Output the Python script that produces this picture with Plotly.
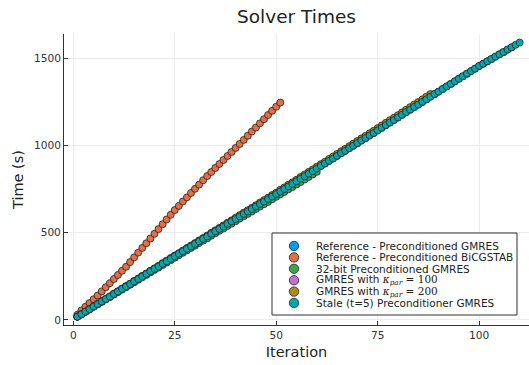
import plotly.graph_objects as go

# ---------------- data ----------------
series_names = [
    "Reference - Preconditioned GMRES",
    "Reference - Preconditioned BiCGSTAB",
    "32-bit Preconditioned GMRES",
    "GMRES with <span style='font-family:DejaVu Serif'><i>κ</i><sub><i>par</i></sub> = 100</span>",
    "GMRES with <span style='font-family:DejaVu Serif'><i>κ</i><sub><i>par</i></sub> = 200</span>",
    "Stale (t=5) Preconditioner GMRES",
]
series_colors = ["#009AFA", "#E36F47", "#3EA44E", "#C371D2", "#AC8E18", "#00A9AD"]

ref_gmres = [19, 32, 47, 61, 76, 90, 105, 119, 133, 148, 162, 177, 191, 205, 220, 234, 249, 263, 278, 292,
             306, 321, 335, 350, 364, 378, 393, 407, 421, 435, 450, 464, 478, 493, 507, 521, 535, 550, 564, 578,
             593, 607, 621, 635, 650, 664, 678, 692, 707, 721, 736, 750, 765, 779, 794, 809, 823, 838, 852, 867,
             882, 896, 911, 925, 940, 955, 969, 984, 998, 1013, 1028, 1042, 1057, 1071, 1086, 1101, 1116, 1131, 1145, 1160,
             1175, 1190, 1205, 1220, 1234, 1249, 1264, 1279, 1294, 1308, 1323, 1338, 1352, 1367, 1382, 1396, 1411, 1426, 1440, 1455,
             1468, 1482, 1495, 1509, 1522, 1535, 1549, 1562]

ref_bicgstab = [30, 55, 76, 97, 119, 140, 164, 188, 211, 235, 258, 282, 305, 332, 359, 386, 413, 440, 467, 494,
                521, 549, 576, 603, 630, 654, 679, 703, 728, 752, 776, 801, 825, 848, 871, 894, 917, 940, 963, 986,
                1009, 1032, 1056, 1080, 1103, 1127, 1151, 1175, 1199, 1222, 1246]

gmres_32bit = [19, 33, 47, 61, 76, 89, 104, 118, 131, 146, 160, 174, 188, 202, 216, 230, 245, 258, 273, 287,
               300, 315, 329, 343, 357, 371, 385, 399, 413, 426, 441, 455, 468, 483, 497, 511, 524, 539, 552, 566,
               581, 594, 608, 622, 636, 650, 664, 677, 692, 706, 720, 734, 749, 762, 777, 791, 805, 820, 834, 849]

gmres_k100 = [19, 33, 48, 62, 77, 91, 106, 120, 134, 149, 163, 179, 193, 207, 222, 236, 251, 265, 280, 294,
              308, 323, 337, 353, 367, 381, 396, 410, 424, 438, 453, 467, 481, 496, 510, 525, 539, 554, 568, 582,
              597, 611, 625, 639, 654, 668, 682, 697, 712, 726, 741, 755, 770, 784, 799, 814, 828, 843, 857, 873,
              888, 902, 917, 931, 946, 961, 975, 990, 1004, 1019, 1034, 1049, 1064, 1078, 1093, 1108, 1123, 1138, 1152, 1167,
              1182, 1197, 1212, 1227]

gmres_k200 = [19, 33, 48, 63, 78, 92, 107, 121, 135, 151, 165, 180, 194, 208, 223, 238, 253, 267, 282, 296,
              310, 326, 340, 355, 369, 383, 398, 413, 427, 441, 456, 470, 484, 500, 514, 528, 542, 557, 571, 586,
              601, 615, 629, 643, 658, 673, 687, 701, 716, 730, 746, 760, 775, 789, 804, 819, 834, 849, 863, 878,
              893, 907, 923, 937, 952, 967, 981, 996, 1011, 1026, 1041, 1055, 1070, 1084, 1100, 1115, 1130, 1145, 1159, 1174,
              1190, 1205, 1220, 1235, 1249, 1264, 1280, 1295]

stale_gmres = [19, 33, 48, 62, 77, 91, 106, 120, 134, 149, 163, 178, 192, 206, 221, 235, 250, 264, 279, 293,
               307, 322, 336, 351, 365, 379, 394, 408, 422, 436, 451, 465, 479, 494, 508, 522, 536, 551, 565, 579,
               594, 608, 622, 636, 651, 665, 679, 693, 708, 722, 737, 751, 766, 780, 795, 810, 824, 839, 853, 868,
               883, 897, 912, 926, 941, 956, 970, 985, 999, 1014, 1029, 1043, 1058, 1072, 1087, 1102, 1117, 1132, 1146, 1161,
               1176, 1191, 1206, 1221, 1235, 1250, 1265, 1280, 1295, 1309, 1324, 1339, 1353, 1368, 1383, 1397, 1412, 1427, 1441, 1456,
               1469, 1483, 1496, 1510, 1523, 1536, 1550, 1563, 1577, 1590]

all_series = [ref_gmres, ref_bicgstab, gmres_32bit, gmres_k100, gmres_k200, stale_gmres]

x_ticks = [0, 25, 50, 75, 100]
y_ticks = [0, 500, 1000, 1500]

# ---------------- figure ----------------
W, H = 529, 365
ML, MR, MT, MB = 64, 0, 34, 40
PW, PH = W - ML - MR, H - MT - MB

fig = go.Figure()
for name, col, ys in zip(series_names, series_colors, all_series):
    fig.add_trace(go.Scatter(
        x=list(range(1, len(ys) + 1)), y=ys, mode="markers", name=name,
        showlegend=False,
        marker=dict(size=7, color=col, line=dict(width=0.8, color="#222222")),
    ))

FONT = "DejaVu Sans"
axis_common = dict(
    showline=True, linecolor="#333333", linewidth=1,
    showgrid=True, gridcolor="#ececec", gridwidth=1,
    zeroline=False, ticks="inside", ticklen=4, tickcolor="#333333",
    tickfont=dict(family=FONT, size=10.6, color="#333333"),
    mirror=False,
)

fig.update_layout(
    width=W, height=H,
    margin=dict(l=ML, r=MR, t=MT, b=MB, autoexpand=False),
    paper_bgcolor="white", plot_bgcolor="white",
    title=dict(text="Solver Times", x=(ML + PW / 2) / W, xanchor="center",
               y=1 - 17 / H, yanchor="middle",
               font=dict(family=FONT, size=18.5, color="#222222")),
    xaxis=dict(range=[-2.29, 112.3], tickvals=x_ticks, automargin=False,
               title=dict(text="Iteration", standoff=7, font=dict(family=FONT, size=14.5, color="#222222")),
               **axis_common),
    yaxis=dict(range=[-28.7, 1639.2], tickvals=y_ticks, automargin=False,
               title=dict(text="Time (s)", standoff=6, font=dict(family=FONT, size=14.5, color="#222222")),
               **axis_common),
    showlegend=False,
)

# ---------------- custom legend (compact, like the reference) ----------------
def px_x(p):
    return (p - ML) / PW

def px_y(p):
    return (H - MB - p) / PH

box = dict(x0=272, x1=517, y0=233, y1=315)
fig.add_shape(type="rect", xref="paper", yref="paper",
              x0=px_x(box["x0"]), x1=px_x(box["x1"]), y0=px_y(box["y1"]), y1=px_y(box["y0"]),
              line=dict(color="#333333", width=1), fillcolor="white", layer="above")

row0, row_gap, mx, tx, r = 246.0, 11.4, 294.0, 314.0, 4.7
for k, (name, col) in enumerate(zip(series_names, series_colors)):
    cy = row0 + k * row_gap
    fig.add_shape(type="circle", xref="paper", yref="paper",
                  x0=px_x(mx - r), x1=px_x(mx + r), y0=px_y(cy + r), y1=px_y(cy - r),
                  line=dict(color="#222222", width=0.8), fillcolor=col, layer="above")
    fig.add_annotation(xref="paper", yref="paper", x=px_x(tx), y=px_y(cy),
                       xanchor="left", yanchor="middle", showarrow=False, text=name,
                       font=dict(family=FONT, size=10.5, color="#222222"))

fig.write_html("out.html")
